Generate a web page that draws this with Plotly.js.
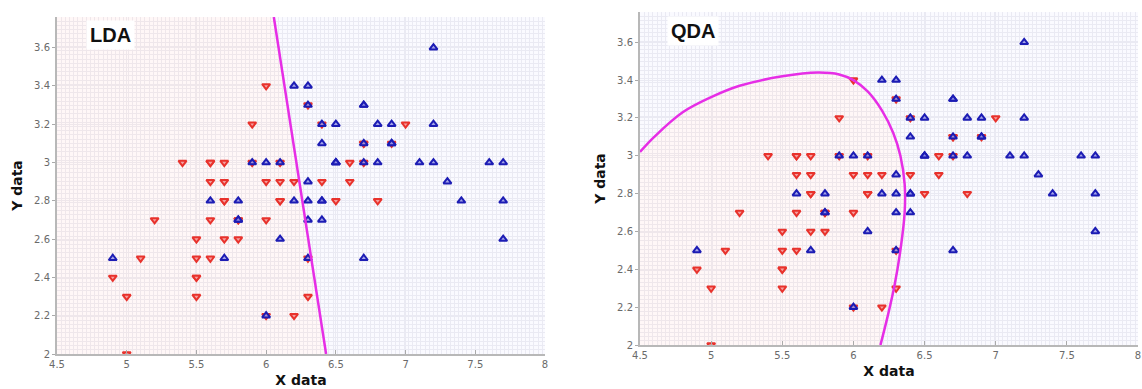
<!DOCTYPE html>
<html><head><meta charset="utf-8">
<script src="https://cdn.plot.ly/plotly-3.0.1.min.js"></script>
<style>html,body{margin:0;padding:0;background:#fff}#chart{width:1142px;height:389px}</style>
</head><body><div id="chart"></div>
<script>
// Iris versicolor (red) and virginica (blue): sepal length (X) vs sepal width (Y)
const versicolorX = [7.0,6.4,6.9,5.5,6.5,5.7,6.3,4.9,6.6,5.2,5.0,5.9,6.0,6.1,5.6,6.7,5.6,5.8,6.2,5.6,5.9,6.1,6.3,6.1,6.4,6.6,6.8,6.7,6.0,5.7,5.5,5.5,5.8,6.0,5.4,6.0,6.7,6.3,5.6,5.5,5.5,6.1,5.8,5.0,5.6,5.7,5.7,6.2,5.1,5.7];
const versicolorY = [3.2,3.2,3.1,2.3,2.8,2.8,3.3,2.4,2.9,2.7,2.0,3.0,2.2,2.9,2.9,3.1,3.0,2.7,2.2,2.5,3.2,2.8,2.5,2.8,2.9,3.0,2.8,3.0,2.9,2.6,2.4,2.4,2.7,2.7,3.0,3.4,3.1,2.3,3.0,2.5,2.6,3.0,2.6,2.3,2.7,3.0,2.9,2.9,2.5,2.8];
const virginicaX = [6.3,5.8,7.1,6.3,6.5,7.6,4.9,7.3,6.7,7.2,6.5,6.4,6.8,5.7,5.8,6.4,6.5,7.7,7.7,6.0,6.9,5.6,7.7,6.3,6.7,7.2,6.2,6.1,6.4,7.2,7.4,7.9,6.4,6.3,6.1,7.7,6.3,6.4,6.0,6.9,6.7,6.9,5.8,6.8,6.7,6.7,6.3,6.5,6.2,5.9];
const virginicaY = [3.3,2.7,3.0,2.9,3.0,3.0,2.5,2.9,2.5,3.6,3.2,2.7,3.0,2.5,2.8,3.2,3.0,3.8,2.6,2.2,3.2,2.8,2.8,2.7,3.3,3.2,2.8,3.0,2.8,3.0,2.8,3.8,2.8,2.8,2.6,3.0,3.4,3.1,3.0,3.1,3.1,3.1,2.7,3.2,3.3,3.0,2.5,3.0,3.4,3.0];

// Decision boundaries
const ldaBoundaryX = [6.055, 6.43];
const ldaBoundaryY = [3.76, 2.0];
const qdaBoundaryX = [4.5,4.6,4.8,5.0,5.2,5.5,5.75,5.9,6.0,6.1,6.2,6.28,6.33,6.36,6.36,6.33,6.29,6.24,6.19];
const qdaBoundaryY = [3.02,3.10,3.23,3.31,3.37,3.42,3.44,3.43,3.40,3.34,3.24,3.12,3.0,2.85,2.7,2.5,2.32,2.15,2.0];

const xRange = [4.5, 8];
const yRange = [2, 3.76];
const xTickVals = [4.5,5,5.5,6,6.5,7,7.5,8];
const xTickText = ['4.5','5','5.5','6','6.5','7','7.5','8'];
const yTickVals = [2,2.2,2.4,2.6,2.8,3,3.2,3.4,3.6];
const yTickText = ['2','2.2','2.4','2.6','2.8','3','3.2','3.4','3.6'];

const PINK = 'rgba(255,120,120,0.06)';
const BLUE = 'rgba(120,120,255,0.035)';
const RED = '#e8322c';
const NAVY = '#1c1cb4';
const MAG = '#e62ee6';
const GRID = '#efeff3';

function regionTraces(xa, ya, pinkX, pinkY, blueX, blueY){
  return [
    {x: pinkX, y: pinkY, xaxis: xa, yaxis: ya, type:'scatter', mode:'lines', fill:'toself', fillcolor: PINK, line:{width:0}, hoverinfo:'skip', showlegend:false},
    {x: blueX, y: blueY, xaxis: xa, yaxis: ya, type:'scatter', mode:'lines', fill:'toself', fillcolor: BLUE, line:{width:0}, hoverinfo:'skip', showlegend:false}
  ];
}
function pointTraces(xa, ya){
  return [
    {x: versicolorX, y: versicolorY, xaxis: xa, yaxis: ya, type:'scatter', mode:'markers', showlegend:false,
     marker:{symbol:'triangle-down', size:7, color:'#f4a0a0', line:{color:RED, width:2}}},
    {x: virginicaX, y: virginicaY, xaxis: xa, yaxis: ya, type:'scatter', mode:'markers', showlegend:false,
     marker:{symbol:'triangle-up', size:7, color:'rgba(140,140,230,0.75)', line:{color:NAVY, width:2}}}
  ];
}

const x0 = xRange[0], x1 = xRange[1], y0 = yRange[0], y1 = yRange[1];
// LDA regions
const ldaPinkX = [x0, ldaBoundaryX[0], ldaBoundaryX[1], x0];
const ldaPinkY = [y1, ldaBoundaryY[0], ldaBoundaryY[1], y0];
const ldaBlueX = [ldaBoundaryX[0], x1, x1, ldaBoundaryX[1]];
const ldaBlueY = [ldaBoundaryY[0], y1, y0, ldaBoundaryY[1]];
// QDA regions
const qdaPinkX = qdaBoundaryX.concat([x0]);
const qdaPinkY = qdaBoundaryY.concat([y0]);
const qdaBlueX = qdaBoundaryX.concat([x1, x1, x0]);
const qdaBlueY = qdaBoundaryY.concat([y0, y1, y1]);

const data = [].concat(
  regionTraces('x','y', ldaPinkX, ldaPinkY, ldaBlueX, ldaBlueY),
  regionTraces('x2','y2', qdaPinkX, qdaPinkY, qdaBlueX, qdaBlueY),
  pointTraces('x','y'),
  pointTraces('x2','y2'),
  [
    {x: ldaBoundaryX, y: ldaBoundaryY, xaxis:'x', yaxis:'y', type:'scatter', mode:'lines', line:{color:MAG, width:2.5}, showlegend:false},
    {x: qdaBoundaryX, y: qdaBoundaryY, xaxis:'x2', yaxis:'y2', type:'scatter', mode:'lines', line:{color:MAG, width:2.5, shape:'spline'}, showlegend:false}
  ]
);

const tickFont = {family:'DejaVu Sans, sans-serif', size:10, color:'#6a6a6a'};
const titleFont = {family:'DejaVu Sans, sans-serif', size:14, color:'#111', weight:'bold'};
function xAxis(dom, anchor){
  return {domain: dom, anchor: anchor, range: xRange, tickmode:'array', tickvals: xTickVals, ticktext: xTickText,
    ticks:'inside', ticklen:4, tickcolor:'#aaa', tickfont: tickFont, showline:true, linecolor:'#b8b8b8', linewidth:2,
    showgrid:true, gridcolor:GRID, gridwidth:1, zeroline:false,
    minor:{dtick:0.03, tick0:4.5, showgrid:true, gridcolor:GRID, gridwidth:1},
    title:{text:'X data', font: titleFont, standoff:6}};
}
function yAxis(dom, anchor){
  return {domain: dom, anchor: anchor, range: yRange, tickmode:'array', tickvals: yTickVals, ticktext: yTickText,
    ticks:'outside', ticklen:3, tickcolor:'#aaa', tickfont: tickFont, showline:true, linecolor:'#b8b8b8', linewidth:2,
    showgrid:true, gridcolor:GRID, gridwidth:1, zeroline:false,
    minor:{dtick:0.022, tick0:2, showgrid:true, gridcolor:GRID, gridwidth:1},
    title:{text:'Y data', font: titleFont, standoff:8}};
}

const layout = {
  width:1142, height:389, margin:{l:0, r:0, t:0, b:0},
  paper_bgcolor:'#ffffff', plot_bgcolor:'#ffffff', showlegend:false,
  xaxis: xAxis([57/1142, 545/1142], 'y'),
  yaxis: yAxis([1-354/389, 1-17/389], 'x'),
  xaxis2: xAxis([640/1142, 1138/1142], 'y2'),
  yaxis2: yAxis([1-345/389, 1-12/389], 'x2'),
  annotations: [
    {text:'LDA', xref:'paper', yref:'paper', x:86/1142, y:1-35/389, xanchor:'left', yanchor:'middle', showarrow:false,
     font:{family:'Liberation Sans, Arial, sans-serif', size:20, color:'#111', weight:'bold'}, bgcolor:'#ffffff', borderpad:3},
    {text:'QDA', xref:'paper', yref:'paper', x:667/1142, y:1-31/389, xanchor:'left', yanchor:'middle', showarrow:false,
     font:{family:'Liberation Sans, Arial, sans-serif', size:20, color:'#111', weight:'bold'}, bgcolor:'#ffffff', borderpad:3}
  ]
};

Plotly.newPlot('chart', data, layout, {staticPlot:true, displayModeBar:false});
</script></body></html>
